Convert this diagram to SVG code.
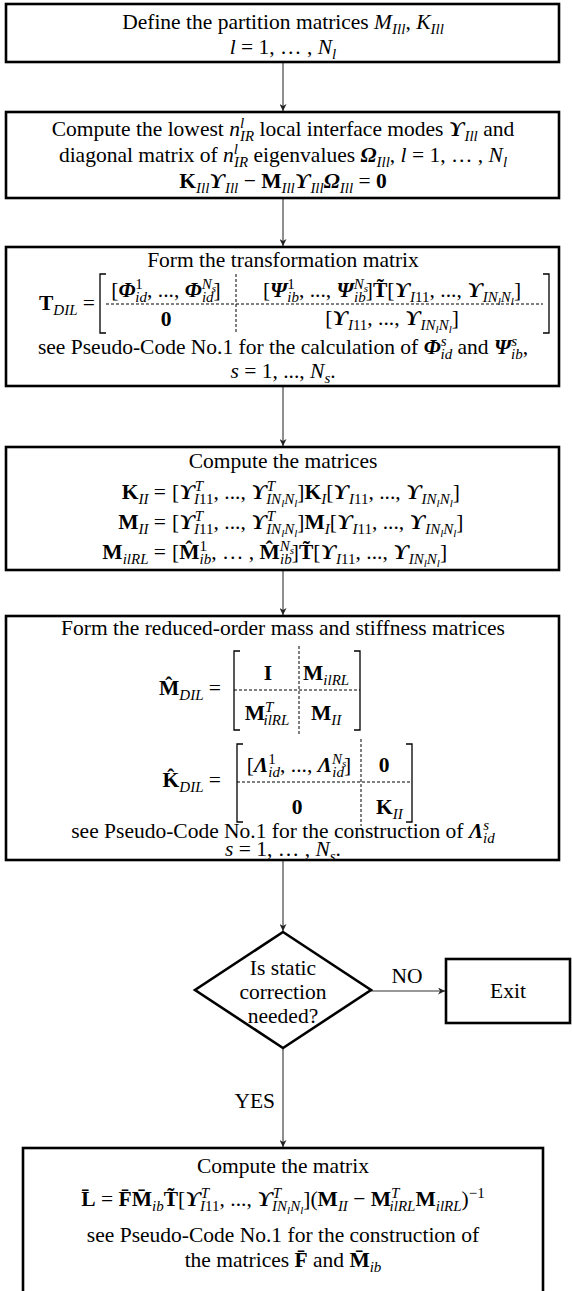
<svg xmlns="http://www.w3.org/2000/svg" width="572" height="1291" viewBox="0 0 572 1291">
<defs>
<style>
text{font-family:"Liberation Serif","Times New Roman","DejaVu Serif",serif;font-size:21.5px;fill:#000}
.c{text-anchor:middle}
.e{text-anchor:end}
.i{font-style:italic}
.b{font-weight:bold}
.bi{font-weight:bold;font-style:italic}
.s{font-size:15px}
.ss{font-size:11px}
.box{fill:#fff;stroke:#000;stroke-width:2.6}
.ln{stroke:#333;stroke-width:1.1;fill:none}
.dash{stroke:#000;stroke-width:1;stroke-dasharray:3 2;fill:none}
.br{stroke:#000;stroke-width:1.3;fill:none}
</style>
<marker id="ah" viewBox="0 0 10 10" refX="10" refY="5" markerWidth="8" markerHeight="7" orient="auto" markerUnits="userSpaceOnUse"><path d="M0,0 L10,5 L0,10 L3,5 z" fill="#222"/></marker>
</defs>

<g id="connectors">
<line class="ln" x1="283" y1="63" x2="283" y2="111" marker-end="url(#ah)"/>
<line class="ln" x1="283" y1="199" x2="283" y2="246" marker-end="url(#ah)"/>
<line class="ln" x1="283" y1="387" x2="283" y2="446" marker-end="url(#ah)"/>
<line class="ln" x1="283" y1="571" x2="283" y2="615" marker-end="url(#ah)"/>
<line class="ln" x1="283" y1="861" x2="283" y2="931" marker-end="url(#ah)"/>
<line class="ln" x1="371" y1="991" x2="445" y2="991" marker-end="url(#ah)"/>
<line class="ln" x1="283" y1="1048" x2="283" y2="1147" marker-end="url(#ah)"/>
<text x="407" y="983" class="c">NO</text>
<text x="275" y="1108" class="e">YES</text>
</g>

<g id="n1">
<rect class="box" x="6" y="4" width="553" height="58"/>
<text class="c" x="283" y="29">Define the partition matrices <tspan class="i">M</tspan><tspan class="s i" dy="5">Ill</tspan><tspan dy="-5">, </tspan><tspan class="i">K</tspan><tspan class="s i" dy="5">Ill</tspan></text>
<text class="c" x="283" y="54"><tspan class="i">l</tspan> = 1, … , <tspan class="i">N</tspan><tspan class="s i" dy="5">l</tspan></text>
</g>

<g id="n2">
<rect class="box" x="6" y="112" width="553" height="86"/>
<text class="c" x="283" y="136">Compute the lowest <tspan class="i">n</tspan><tspan class="s i" dy="-8">l</tspan><tspan class="s i" dx="-4" dy="13">IR</tspan><tspan dy="-5"> local interface modes </tspan><tspan class="bi">ϒ</tspan><tspan class="s i" dy="5">Ill</tspan><tspan dy="-5"> and</tspan></text>
<text class="c" x="283" y="162">diagonal matrix of <tspan class="i">n</tspan><tspan class="s i" dy="-8">l</tspan><tspan class="s i" dx="-4" dy="13">IR</tspan><tspan dy="-5"> eigenvalues </tspan><tspan class="bi">Ω</tspan><tspan class="s i" dy="5">Ill</tspan><tspan dy="-5">, </tspan><tspan class="i">l</tspan> = 1, … , <tspan class="i">N</tspan><tspan class="s i" dy="5">l</tspan></text>
<text class="c" x="283" y="188"><tspan class="b">K</tspan><tspan class="s i" dy="5">Ill</tspan><tspan class="bi" dy="-5">ϒ</tspan><tspan class="s i" dy="5">Ill</tspan><tspan dy="-5"> − </tspan><tspan class="b">M</tspan><tspan class="s i" dy="5">Ill</tspan><tspan class="bi" dy="-5">ϒ</tspan><tspan class="s i" dy="5">Ill</tspan><tspan class="bi" dy="-5">Ω</tspan><tspan class="s i" dy="5">Ill</tspan><tspan dy="-5"> = </tspan><tspan class="b">0</tspan></text>
</g>

<g id="n3">
<rect class="box" x="6" y="247" width="553" height="139"/>
<text class="c" x="283" y="267">Form the transformation matrix</text>
<text class="e" x="95" y="310"><tspan class="b">T</tspan><tspan class="s i" dy="5">DIL</tspan><tspan dy="-5"> =</tspan></text>
<path class="br" d="M106,274 H100 V333 H106"/>
<path class="br" d="M543,274 H549 V333 H543"/>
<line class="dash" x1="236" y1="274" x2="236" y2="333"/>
<line class="dash" x1="106" y1="304" x2="543" y2="304"/>
<text class="c" x="166" y="297">[<tspan class="bi">Φ</tspan><tspan class="s" dy="-8">1</tspan><tspan class="s i" dx="-7.5" dy="13">id</tspan><tspan dy="-5">, ..., </tspan><tspan class="bi">Φ</tspan><tspan class="s i" dy="-8">N</tspan><tspan class="ss i" dy="3">s</tspan><tspan class="s i" dx="-14" dy="10">id</tspan><tspan dy="-5">]</tspan></text>
<text class="c" x="392" y="297">[<tspan class="bi">Ψ</tspan><tspan class="s" dy="-8">1</tspan><tspan class="s i" dx="-7.5" dy="13">ib</tspan><tspan dy="-5">, ..., </tspan><tspan class="bi">Ψ</tspan><tspan class="s i" dy="-8">N</tspan><tspan class="ss i" dy="3">s</tspan><tspan class="s i" dx="-14" dy="10">ib</tspan><tspan dy="-5">]</tspan><tspan class="b">T̃</tspan>[<tspan class="bi">ϒ</tspan><tspan class="s i" dy="5">I</tspan><tspan class="s">11</tspan><tspan dy="-5">, ..., </tspan><tspan class="bi">ϒ</tspan><tspan class="s i" dy="5">IN</tspan><tspan class="ss i" dy="3">l</tspan><tspan class="s i" dy="-3">N</tspan><tspan class="ss i" dy="3">l</tspan><tspan dy="-8">]</tspan></text>
<text class="c" x="166" y="326"><tspan class="b">0</tspan></text>
<text class="c" x="392" y="325">[<tspan class="bi">ϒ</tspan><tspan class="s i" dy="5">I</tspan><tspan class="s">11</tspan><tspan dy="-5">, ..., </tspan><tspan class="bi">ϒ</tspan><tspan class="s i" dy="5">IN</tspan><tspan class="ss i" dy="3">l</tspan><tspan class="s i" dy="-3">N</tspan><tspan class="ss i" dy="3">l</tspan><tspan dy="-8">]</tspan></text>
<text class="c" x="283" y="354">see Pseudo-Code No.1 for the calculation of <tspan class="bi">Φ</tspan><tspan class="s i" dy="-8">s</tspan><tspan class="s i" dx="-6" dy="13">id</tspan><tspan dy="-5"> and </tspan><tspan class="bi">Ψ</tspan><tspan class="s i" dy="-8">s</tspan><tspan class="s i" dx="-6" dy="13">ib</tspan><tspan dy="-5">,</tspan></text>
<text class="c" x="283" y="378"><tspan class="i">s</tspan> = 1, ..., <tspan class="i">N</tspan><tspan class="s i" dy="5">s</tspan><tspan dy="-5">.</tspan></text>
</g>

<g id="n4">
<rect class="box" x="6" y="447" width="553" height="123"/>
<text class="c" x="283" y="468">Compute the matrices</text>
<text class="e" x="166" y="499"><tspan class="b">K</tspan><tspan class="s i" dy="5">II</tspan><tspan dy="-5"> =</tspan></text>
<text x="172" y="499">[<tspan class="bi">ϒ</tspan><tspan class="s i" dy="-8">T</tspan><tspan class="s i" dx="-9" dy="13">I</tspan><tspan class="s">11</tspan><tspan dy="-5">, ..., </tspan><tspan class="bi">ϒ</tspan><tspan class="s i" dy="-8">T</tspan><tspan class="s i" dx="-9" dy="13">IN</tspan><tspan class="ss i" dy="3">l</tspan><tspan class="s i" dy="-3">N</tspan><tspan class="ss i" dy="3">l</tspan><tspan dy="-8">]</tspan><tspan class="b">K</tspan><tspan class="s i" dy="5">I</tspan><tspan dy="-5">[</tspan><tspan class="bi">ϒ</tspan><tspan class="s i" dy="5">I</tspan><tspan class="s">11</tspan><tspan dy="-5">, ..., </tspan><tspan class="bi">ϒ</tspan><tspan class="s i" dy="5">IN</tspan><tspan class="ss i" dy="3">l</tspan><tspan class="s i" dy="-3">N</tspan><tspan class="ss i" dy="3">l</tspan><tspan dy="-8">]</tspan></text>
<text class="e" x="166" y="529"><tspan class="b">M</tspan><tspan class="s i" dy="5">II</tspan><tspan dy="-5"> =</tspan></text>
<text x="172" y="529">[<tspan class="bi">ϒ</tspan><tspan class="s i" dy="-8">T</tspan><tspan class="s i" dx="-9" dy="13">I</tspan><tspan class="s">11</tspan><tspan dy="-5">, ..., </tspan><tspan class="bi">ϒ</tspan><tspan class="s i" dy="-8">T</tspan><tspan class="s i" dx="-9" dy="13">IN</tspan><tspan class="ss i" dy="3">l</tspan><tspan class="s i" dy="-3">N</tspan><tspan class="ss i" dy="3">l</tspan><tspan dy="-8">]</tspan><tspan class="b">M</tspan><tspan class="s i" dy="5">I</tspan><tspan dy="-5">[</tspan><tspan class="bi">ϒ</tspan><tspan class="s i" dy="5">I</tspan><tspan class="s">11</tspan><tspan dy="-5">, ..., </tspan><tspan class="bi">ϒ</tspan><tspan class="s i" dy="5">IN</tspan><tspan class="ss i" dy="3">l</tspan><tspan class="s i" dy="-3">N</tspan><tspan class="ss i" dy="3">l</tspan><tspan dy="-8">]</tspan></text>
<text class="e" x="166" y="559"><tspan class="b">M</tspan><tspan class="s i" dy="5">ilRL</tspan><tspan dy="-5"> =</tspan></text>
<text x="172" y="559">[<tspan class="b">M̂</tspan><tspan class="s" dy="-8">1</tspan><tspan class="s i" dx="-7.5" dy="13">ib</tspan><tspan dy="-5">, … , </tspan><tspan class="b">M̂</tspan><tspan class="s i" dy="-8">N</tspan><tspan class="ss i" dy="3">s</tspan><tspan class="s i" dx="-14" dy="10">ib</tspan><tspan dy="-5">]</tspan><tspan class="b">T̃</tspan>[<tspan class="bi">ϒ</tspan><tspan class="s i" dy="5">I</tspan><tspan class="s">11</tspan><tspan dy="-5">, ..., </tspan><tspan class="bi">ϒ</tspan><tspan class="s i" dy="5">IN</tspan><tspan class="ss i" dy="3">l</tspan><tspan class="s i" dy="-3">N</tspan><tspan class="ss i" dy="3">l</tspan><tspan dy="-8">]</tspan></text>
</g>

<g id="n5">
<rect class="box" x="6" y="616" width="553" height="244"/>
<text class="c" x="283" y="635">Form the reduced-order mass and stiffness matrices</text>
<text class="e" x="221" y="695"><tspan class="b">M̂</tspan><tspan class="s i" dy="5">DIL</tspan><tspan dy="-5"> =</tspan></text>
<path class="br" d="M240,651 H234 V730 H240"/>
<path class="br" d="M354,651 H360 V730 H354"/>
<line class="dash" x1="299" y1="646" x2="299" y2="734"/>
<line class="dash" x1="234" y1="690" x2="360" y2="690"/>
<text class="c" x="268" y="680"><tspan class="b">I</tspan></text>
<text x="303" y="680"><tspan class="b">M</tspan><tspan class="s i" dy="5">ilRL</tspan></text>
<text class="c" x="267" y="720"><tspan class="b">M</tspan><tspan class="s i" dy="-8">T</tspan><tspan class="s i" dx="-9" dy="13">ilRL</tspan></text>
<text x="311" y="720"><tspan class="b">M</tspan><tspan class="s i" dy="5">II</tspan></text>
<text class="e" x="221" y="787"><tspan class="b">K̂</tspan><tspan class="s i" dy="5">DIL</tspan><tspan dy="-5"> =</tspan></text>
<path class="br" d="M243,744 H237 V822 H243"/>
<path class="br" d="M406,744 H412 V822 H406"/>
<line class="dash" x1="361" y1="739" x2="361" y2="826"/>
<line class="dash" x1="237" y1="782" x2="412" y2="782"/>
<text class="c" x="299" y="772">[<tspan class="bi">Λ</tspan><tspan class="s" dy="-8">1</tspan><tspan class="s i" dx="-7.5" dy="13">id</tspan><tspan dy="-5">, ..., </tspan><tspan class="bi">Λ</tspan><tspan class="s i" dy="-8">N</tspan><tspan class="ss i" dy="3">s</tspan><tspan class="s i" dx="-14" dy="10">id</tspan><tspan dy="-5">]</tspan></text>
<text class="c" x="384" y="772"><tspan class="b">0</tspan></text>
<text class="c" x="297" y="814"><tspan class="b">0</tspan></text>
<text x="376" y="814"><tspan class="b">K</tspan><tspan class="s i" dy="5">II</tspan></text>
<text class="c" x="283" y="838">see Pseudo-Code No.1 for the construction of <tspan class="bi">Λ</tspan><tspan class="s i" dy="-8">s</tspan><tspan class="s i" dx="-6" dy="13">id</tspan></text>
<text class="c" x="283" y="856"><tspan class="i">s</tspan> = 1, … , <tspan class="i">N</tspan><tspan class="s i" dy="5">s</tspan><tspan dy="-5">.</tspan></text>
</g>

<g id="n6">
<polygon points="283,932 371,990 283,1048 195,990" fill="#fff" stroke="#000" stroke-width="2.6"/>
<text class="c" x="283" y="975">Is static</text>
<text class="c" x="283" y="999">correction</text>
<text class="c" x="283" y="1023">needed?</text>
</g>

<g id="n7">
<rect class="box" x="446" y="959" width="124" height="64"/>
<text class="c" x="508" y="998">Exit</text>
</g>

<g id="n8">
<rect class="box" x="23" y="1148" width="520" height="160"/>
<text class="c" x="283" y="1173">Compute the matrix</text>
<text class="c" x="283" y="1206"><tspan class="b">L̄</tspan> = <tspan class="b">F̄M̄</tspan><tspan class="s i" dy="5">ib</tspan><tspan class="b" dy="-5">T̃</tspan>[<tspan class="bi">ϒ</tspan><tspan class="s i" dy="-8">T</tspan><tspan class="s i" dx="-9" dy="13">I</tspan><tspan class="s">11</tspan><tspan dy="-5">, ..., </tspan><tspan class="bi">ϒ</tspan><tspan class="s i" dy="-8">T</tspan><tspan class="s i" dx="-9" dy="13">IN</tspan><tspan class="ss i" dy="3">l</tspan><tspan class="s i" dy="-3">N</tspan><tspan class="ss i" dy="3">l</tspan><tspan dy="-8">](</tspan><tspan class="b">M</tspan><tspan class="s i" dy="5">II</tspan><tspan dy="-5"> − </tspan><tspan class="b">M</tspan><tspan class="s i" dy="-8">T</tspan><tspan class="s i" dx="-9" dy="13">ilRL</tspan><tspan class="b" dy="-5">M</tspan><tspan class="s i" dy="5">ilRL</tspan><tspan dy="-5">)</tspan><tspan class="s" dy="-8">−1</tspan></text>
<text class="c" x="283" y="1242">see Pseudo-Code No.1 for the construction of</text>
<text class="c" x="283" y="1267">the matrices <tspan class="b">F̄</tspan> and <tspan class="b">M̄</tspan><tspan class="s i" dy="5">ib</tspan></text>
</g>
</svg>
